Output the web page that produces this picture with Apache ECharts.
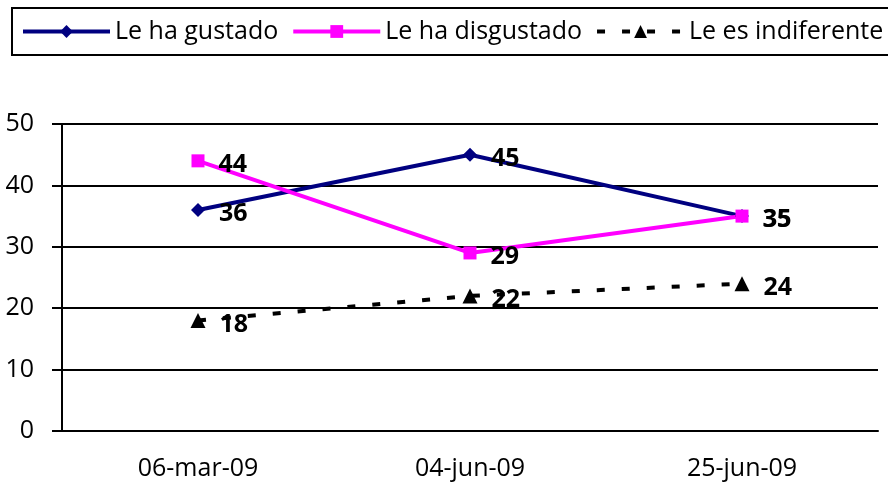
<!DOCTYPE html>
<html>
<head>
<meta charset="utf-8">
<script src="https://cdn.jsdelivr.net/npm/echarts@6/dist/echarts.min.js"></script>
<style>
  html, body { margin: 0; padding: 0; background: #fff; }
  #chart { width: 888px; height: 488px; }
</style>
</head>
<body>
<div id="chart"></div>
<script>
// datos
var fechas = ["06-mar-09", "04-jun-09", "25-jun-09"];
var gustado = [36, 45, 35];
var disgustado = [44, 29, 35];
var indiferente = [18, 22, 24];

var myChart = echarts.init(document.getElementById("chart"));
var fuente = "Open Sans";

var etiqueta = {
  show: true,
  position: "right",
  distance: 14,
  offset: [0, 4],
  color: "#000",
  fontWeight: "bold",
  fontSize: 25,
  fontFamily: fuente
};

var option = {
  animation: false,
  legend: {
    left: 12,
    top: 8,
    width: 920,
    padding: [8, 40, 8, 9],
    itemGap: 13,
    itemWidth: 87,
    itemHeight: 16,
    borderColor: "#000",
    borderWidth: 2,
    lineStyle: { width: 4 },
    textStyle: { fontSize: 25, color: "#000", fontFamily: fuente, lineHeight: 31 },
    data: ["Le ha gustado", "Le ha disgustado", "Le es indiferente"]
  },
  grid: { left: 62, right: 10, top: 124, bottom: 57 },
  xAxis: {
    type: "category",
    data: fechas,
    boundaryGap: true,
    axisLine: { lineStyle: { color: "#000", width: 2 } },
    axisTick: { length: 10, lineStyle: { color: "#000", width: 2 } },
    axisLabel: { color: "#000", fontSize: 25, margin: 25, fontFamily: fuente }
  },
  yAxis: {
    type: "value",
    min: 0,
    max: 50,
    interval: 10,
    axisLine: { show: true, lineStyle: { color: "#000", width: 2 } },
    axisTick: { show: true, length: 10, lineStyle: { color: "#000", width: 2 } },
    axisLabel: { color: "#000", fontSize: 25, margin: 28, fontFamily: fuente },
    splitLine: { lineStyle: { color: "#000", width: 2 } }
  },
  series: [
    {
      name: "Le ha gustado",
      type: "line",
      data: gustado,
      symbol: "diamond",
      symbolSize: 14,
      lineStyle: { color: "#000080", width: 4 },
      itemStyle: { color: "#000080" },
      label: etiqueta
    },
    {
      name: "Le ha disgustado",
      type: "line",
      data: disgustado,
      symbol: "rect",
      symbolSize: 13,
      lineStyle: { color: "#ff00ff", width: 4 },
      itemStyle: { color: "#ff00ff" },
      label: etiqueta
    },
    {
      name: "Le es indiferente",
      type: "line",
      data: indiferente,
      symbol: "triangle",
      symbolSize: 15,
      lineStyle: { color: "#000", width: 4, type: [8, 17] },
      itemStyle: { color: "#000" },
      label: etiqueta
    }
  ]
};

window.onresize = myChart.resize;
myChart.setOption(option);
</script>
</body>
</html>
